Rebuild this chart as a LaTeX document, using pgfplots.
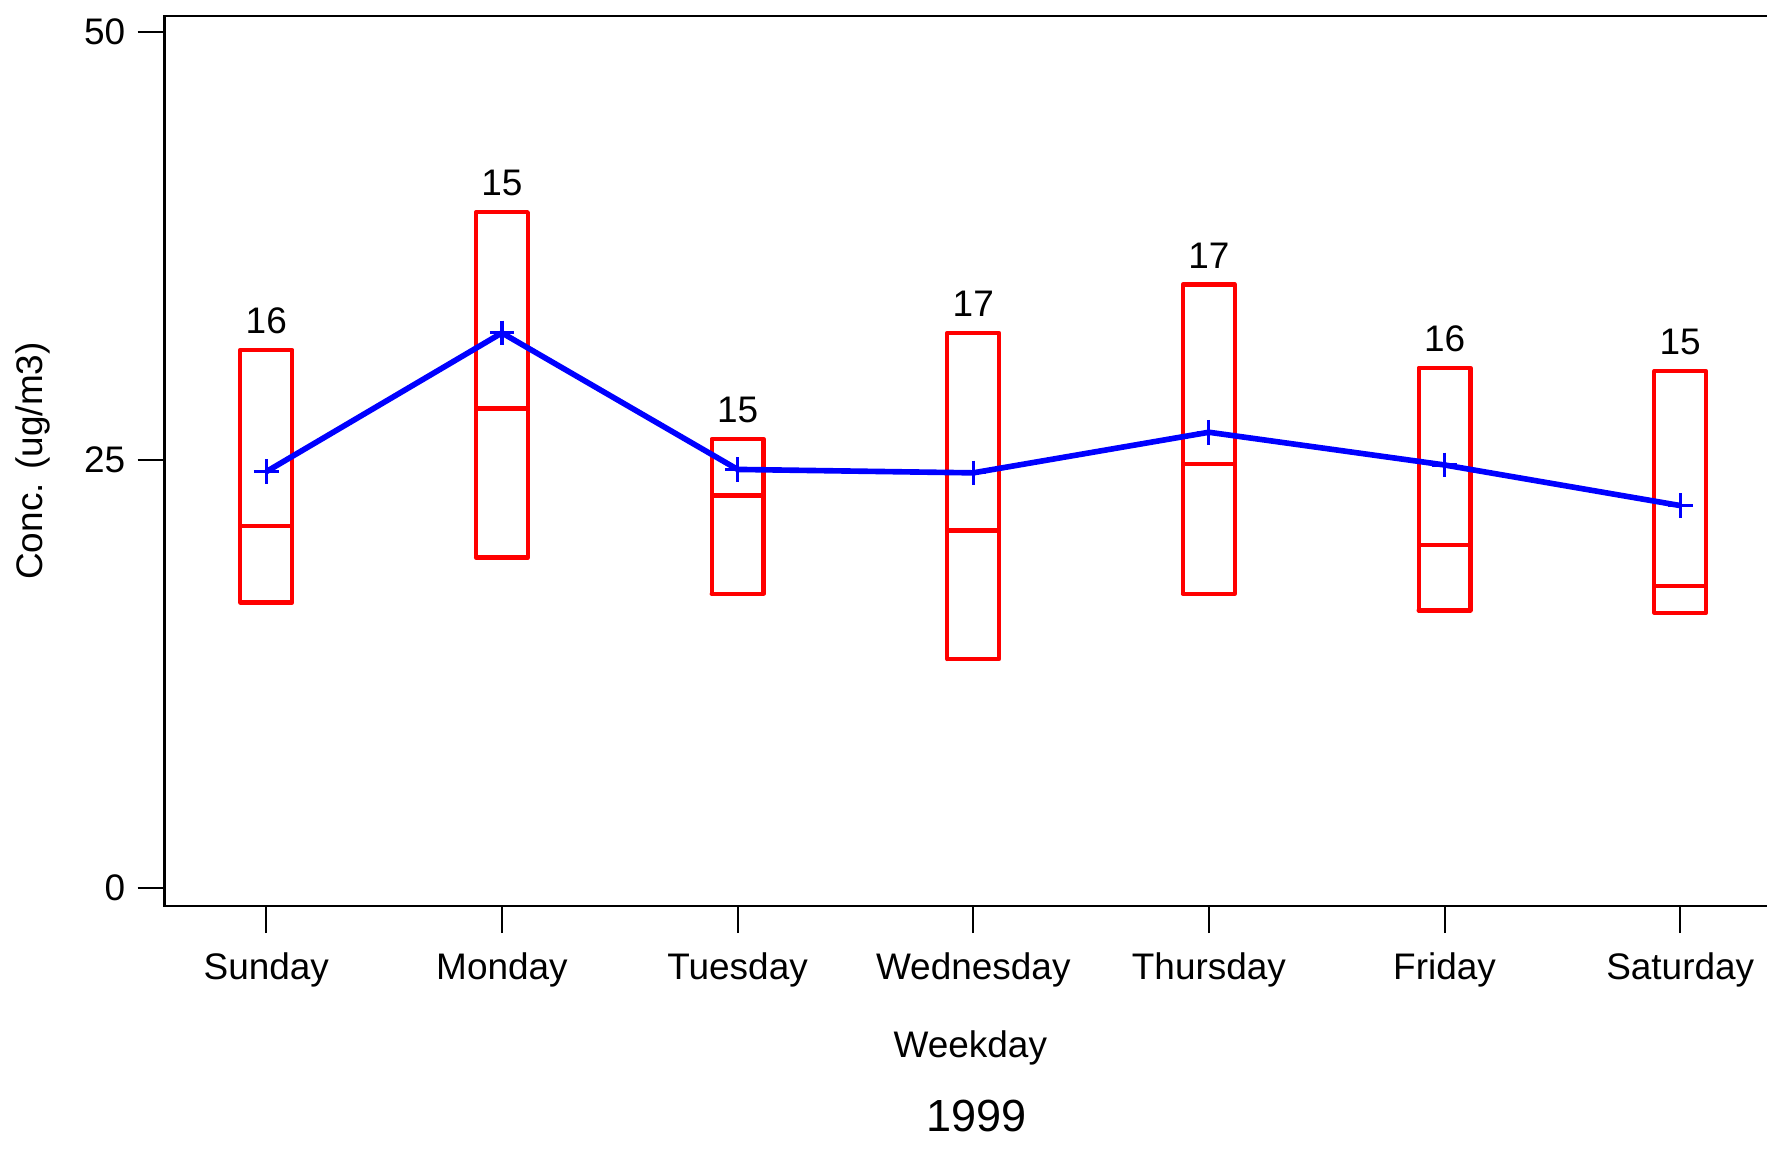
\documentclass[border=0pt]{standalone}
\usepackage{pgfplots}
\pgfplotsset{compat=1.18}
\usepackage{fontspec}
\setmainfont{Liberation Sans}

\begin{document}
\begin{tikzpicture}
\path[use as bounding box] (-16.45mm,-25.2mm) rectangle (160.0mm,90.48mm);
\begin{axis}[
  at={(0,0)}, anchor=south west,
  scale only axis,
  width=160.25mm, height=88.9mm,
  xmin=-0.431, xmax=6.379,
  ymin=-1.05, ymax=50.92,
  xtick={0,1,2,3,4,5,6},
  xticklabels={Sunday,Monday,Tuesday,Wednesday,Thursday,Friday,Saturday},
  ytick={0,25,50},
  tick align=outside,
  xtick pos=bottom, ytick pos=left,
  major tick length=2.7mm,
  tick style={black, line width=0.6pt},
  axis line style={line width=0.7pt},
  /pgf/number format/assume math mode=true,
  tick label style={font=\fontsize{10.5}{12}\selectfont},
  xticklabel style={yshift=-2pt},
  label style={font=\fontsize{10.5}{12}\selectfont},
  xlabel={Weekday}, ylabel={Conc. (ug/m3)},
  xlabel style={at={(axis description cs:0.502,-0.159)}, anchor=center},
  ylabel style={at={(axis description cs:-0.082,0.5)}, anchor=center},
  title={1999},
  title style={at={(axis description cs:0.506,-0.26)}, anchor=center, font=\fontsize{12.8}{14}\selectfont},
  unbounded coords=jump,
  clip=false,
]
% boxes (lower edge = bottom, upper edge = top)
\addplot[red, line width=1.2pt, line join=round, line cap=round, mark=none] table {
x y
-0.11 16.67
0.11 16.67
0.11 31.42
-0.11 31.42
-0.11 16.67
nan nan
0.89 19.30
1.11 19.30
1.11 39.46
0.89 39.46
0.89 19.30
nan nan
1.89 17.19
2.11 17.19
2.11 26.22
1.89 26.22
1.89 17.19
nan nan
2.89 13.37
3.11 13.37
3.11 32.41
2.89 32.41
2.89 13.37
nan nan
3.89 17.19
4.11 17.19
4.11 35.24
3.89 35.24
3.89 17.19
nan nan
4.89 16.21
5.11 16.21
5.11 30.37
4.89 30.37
4.89 16.21
nan nan
5.89 16.07
6.11 16.07
6.11 30.17
5.89 30.17
5.89 16.07
};
% medians
\addplot[red, line width=1.2pt, mark=none] table {
x y
-0.11 21.15
0.11 21.15
nan nan
0.89 28.00
1.11 28.00
nan nan
1.89 22.92
2.11 22.92
nan nan
2.89 20.88
3.11 20.88
nan nan
3.89 24.77
4.11 24.77
nan nan
4.89 20.03
5.11 20.03
nan nan
5.89 17.65
6.11 17.65
};
% counts
\addplot[only marks, mark=none, nodes near coords, point meta=explicit symbolic,
  nodes near coords style={anchor=south, font=\fontsize{10.5}{12}\selectfont, black, yshift=1pt}]
  table[meta=n] {
x y n
0 31.42 16
1 39.46 15
2 26.22 15
3 32.41 17
4 35.24 17
5 30.37 16
6 30.17 15
};
% means
\addplot[blue, line width=1.6pt, mark=+, mark size=3.5pt, mark options={line width=0.9pt}] coordinates {
(0,24.31) (1,32.41) (2,24.44) (3,24.24) (4,26.61) (5,24.70) (6,22.33)
};
\end{axis}
\end{tikzpicture}
\end{document}
